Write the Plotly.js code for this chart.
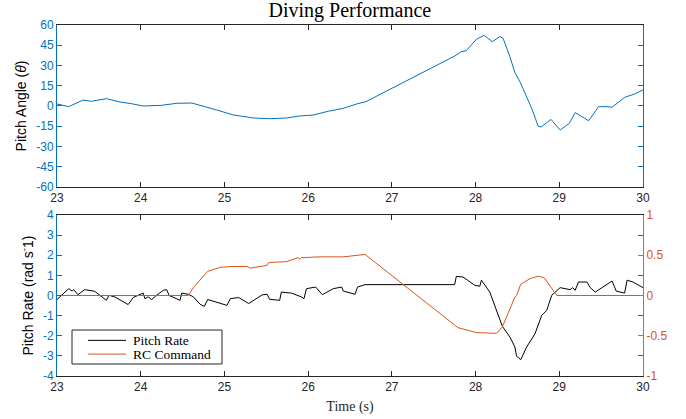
<!DOCTYPE html>
<html>
<head>
<meta charset="utf-8">
<script src="https://cdn.plot.ly/plotly-3.0.1.min.js"></script>
<style>html,body{margin:0;padding:0;background:#fff;}#chart{width:686px;height:419px;}</style>
</head>
<body>
<div id="chart"></div>
<script>
// Pitch angle (top panel)
const angleTime = [23.0,23.14,23.31,23.41,23.59,23.75,23.89,24.03,24.25,24.43,24.61,24.75,24.91,25.11,25.35,25.54,25.74,25.90,26.06,26.24,26.42,26.58,26.69,27.75,27.83,27.89,28.01,28.10,28.20,28.29,28.33,28.41,28.47,28.53,28.67,28.75,28.79,28.90,29.01,29.12,29.19,29.35,29.47,29.57,29.63,29.78,29.90,30.0];
const pitchAngle = [1.5,-0.5,4.4,3.5,5.4,3.0,1.7,0,0.5,2.0,2.2,0,-3,-6.7,-8.9,-9.4,-8.9,-7.4,-6.7,-3.9,-1.7,1.5,3.2,37,40.2,41,49.4,52.3,47.7,51.4,50,36.5,24.7,18,-1.7,-15.3,-15.3,-9.9,-17.8,-12.8,-4.9,-10.9,-0.5,-0.5,-1,6.4,8.9,11.9];

// Pitch rate (bottom panel, left axis)
const rateTime = [23.0,23.14,23.18,23.20,23.25,23.33,23.45,23.51,23.59,23.62,23.69,23.85,23.91,24.03,24.05,24.09,24.13,24.19,24.27,24.31,24.34,24.47,24.49,24.57,24.63,24.71,24.76,24.80,25.03,25.07,25.17,25.29,25.45,25.51,25.54,25.66,25.68,25.80,25.92,25.95,25.98,26.09,26.17,26.30,26.40,26.42,26.56,26.59,26.68,27.75,27.77,27.85,27.99,28.05,28.07,28.17,28.25,28.32,28.41,28.47,28.49,28.54,28.61,28.71,28.79,28.85,28.91,28.93,29.01,29.13,29.16,29.19,29.23,29.33,29.37,29.43,29.63,29.68,29.78,29.81,29.88,30.0];
const pitchRate = [-0.2,0.34,0.22,0.29,0.04,0.29,0.21,0,-0.24,0.01,-0.07,-0.45,-0.1,0.12,-0.16,-0.07,-0.2,0.01,0.26,0.29,0,-0.24,0.12,0.06,-0.07,-0.44,-0.54,-0.2,-0.49,-0.16,-0.1,-0.4,0.03,0.06,-0.19,-0.24,0.17,0.12,-0.07,-0.16,0.34,0.42,0.04,0.34,0.42,0.22,0.06,0.42,0.54,0.54,0.95,0.92,0.51,0.46,0.76,0.17,-0.74,-1.53,-2.06,-2.56,-3.02,-3.19,-2.56,-1.9,-0.99,-0.74,0.01,0.09,0.39,0.29,0.39,0.26,0.67,0.67,0.39,0.17,0.72,0.22,0.12,0.76,0.67,0.39];

// RC command (bottom panel, right axis)
const rcTime = [23.0,24.57,24.63,24.73,24.80,24.95,25.07,25.27,25.31,25.51,25.53,25.74,25.88,25.90,25.92,26.14,26.42,26.68,27.79,28.01,28.25,28.32,28.47,28.49,28.54,28.65,28.75,28.82,28.87,28.97,30.0];
const rcCommand = [0,0,0.1,0.21,0.30,0.35,0.36,0.36,0.34,0.375,0.41,0.42,0.47,0.45,0.47,0.48,0.48,0.51,-0.40,-0.46,-0.47,-0.39,-0.02,0,0.14,0.21,0.24,0.22,0.15,0,0];

const xTicks = [23,24,25,26,27,28,29,30];
const angleTicks = [-60,-45,-30,-15,0,15,30,45,60];
const rateTicks = [-4,-3,-2,-1,0,1,2,3,4];
const rcTicks = [-1,-0.5,0,0.5,1];
const rcTickText = ['-1','-0.5','0','0.5','1'];
const legendNames = ['Pitch Rate', 'RC Command'];

const BLUE = '#0072BD', ORANGE = '#D95319', DARK = '#262626', BROWN = '#a6715f';
const sans = 'Liberation Sans, Arial, sans-serif';
const serif = 'Liberation Serif, Times New Roman, serif';

const traces = [
  {x: angleTime, y: pitchAngle, xaxis: 'x', yaxis: 'y', type: 'scatter', mode: 'lines',
   line: {color: BLUE, width: 1}, showlegend: false, name: 'Pitch Angle'},
  {x: rateTime, y: pitchRate, xaxis: 'x2', yaxis: 'y2', type: 'scatter', mode: 'lines',
   line: {color: '#000000', width: 1}, showlegend: false, name: legendNames[0]},
  {x: rcTime, y: rcCommand, xaxis: 'x2', yaxis: 'y3', type: 'scatter', mode: 'lines',
   line: {color: ORANGE, width: 1}, showlegend: false, name: legendNames[1]}
];

const xCommon = {range: [23, 30], tickvals: xTicks, ticktext: xTicks.map(String), ticks: 'inside', ticklen: 5,
  tickcolor: DARK, linecolor: DARK, linewidth: 1, showline: true, mirror: 'ticks', showgrid: false, zeroline: false,
  tickfont: {family: sans, size: 12, color: DARK}};

// manual legend box (paper coordinates of the lower panel area)
const lgX0 = 0.0256, lgX1 = 0.2816, lgY0 = 0.0342, lgY1 = 0.131;
const lgLineX0 = 0.0529, lgLineX1 = 0.1177, lgTextX = 0.1263;
const lgRowY = [0.1015, 0.0625];
const lgColors = ['#000000', ORANGE];

const shapes = [{type: 'rect', xref: 'paper', yref: 'paper', x0: lgX0, x1: lgX1, y0: lgY0, y1: lgY1,
  line: {color: DARK, width: 1}, fillcolor: '#ffffff', layer: 'above'}];
const annotations = [];
legendNames.forEach((nm, i) => {
  shapes.push({type: 'line', xref: 'paper', yref: 'paper', x0: lgLineX0, x1: lgLineX1, y0: lgRowY[i], y1: lgRowY[i],
    line: {color: lgColors[i], width: 1}, layer: 'above'});
  annotations.push({xref: 'paper', yref: 'paper', x: lgTextX, y: lgRowY[i], xanchor: 'left', yanchor: 'middle',
    text: nm, showarrow: false, font: {family: serif, size: 13.5, color: '#000'}});
});

const layout = {
  width: 686, height: 419,
  margin: {l: 57, r: 43, t: 25, b: 43},
  paper_bgcolor: '#ffffff', plot_bgcolor: '#ffffff',
  title: {text: 'Diving Performance', font: {family: serif, size: 20, color: '#000'},
          x: 0.51, xanchor: 'center', yref: 'container', y: 0.975, yanchor: 'middle'},
  xaxis: Object.assign({}, xCommon, {anchor: 'y', domain: [0, 1]}),
  yaxis: {domain: [0.5385, 1], anchor: 'x', range: [-60, 60], tickvals: angleTicks, ticktext: angleTicks.map(String),
    ticks: 'inside', ticklen: 5, tickcolor: BLUE, linecolor: BLUE, linewidth: 1, showline: true, mirror: 'ticks',
    showgrid: false, zeroline: false, tickfont: {family: sans, size: 12, color: BLUE},
    title: {text: 'Pitch Angle (<i>θ</i>)', font: {family: sans, size: 14, color: '#000'}, standoff: 6}},
  xaxis2: Object.assign({}, xCommon, {anchor: 'y2', domain: [0, 1],
    title: {text: 'Time (s)', font: {family: serif, size: 14, color: DARK}, standoff: 7}}),
  yaxis2: {domain: [0, 0.4587], anchor: 'x2', range: [-4, 4], tickvals: rateTicks, ticktext: rateTicks.map(String),
    ticks: 'inside', ticklen: 5, tickcolor: BLUE, linecolor: BLUE, linewidth: 1, showline: true, mirror: 'ticks',
    showgrid: false, zeroline: false, tickfont: {family: sans, size: 12, color: BLUE},
    title: {text: 'Pitch Rate (rad s<sup>-</sup>1)', font: {family: sans, size: 14, color: '#000'}, standoff: 6}},
  yaxis3: {overlaying: 'y2', side: 'right', anchor: 'x2', range: [-1, 1], tickvals: rcTicks, ticktext: rcTickText,
    ticks: 'inside', ticklen: 5, tickcolor: BROWN, linecolor: BROWN, linewidth: 1, showline: true,
    showgrid: false, zeroline: false, tickfont: {family: sans, size: 12, color: ORANGE}},
  shapes: shapes,
  annotations: annotations,
  showlegend: false
};

Plotly.newPlot('chart', traces, layout, {staticPlot: true, displayModeBar: false});
</script>
</body>
</html>
